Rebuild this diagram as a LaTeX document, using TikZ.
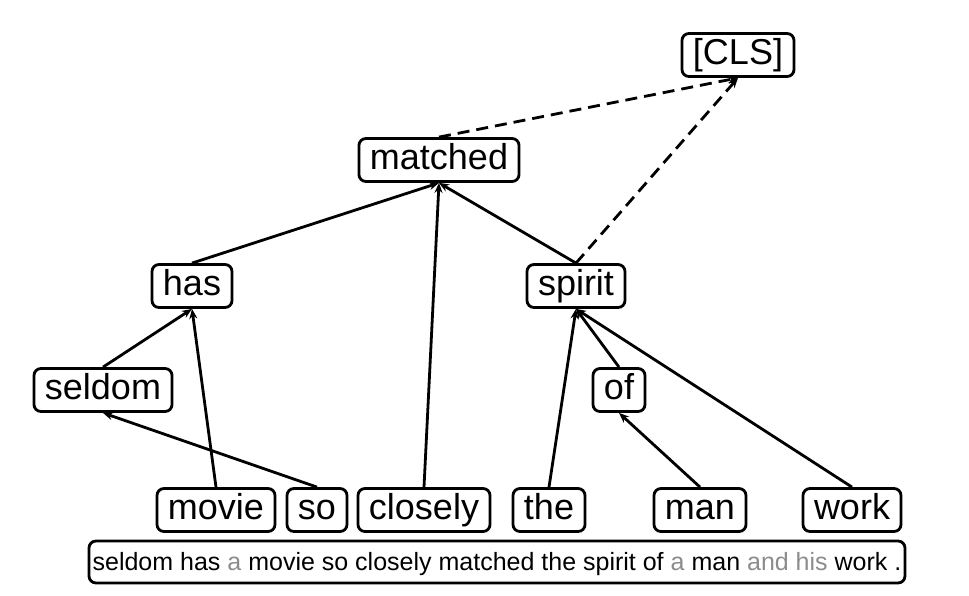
\documentclass[tikz,border=0pt]{standalone}
\usepackage{fontspec}
\setmainfont{Liberation Sans}
\usetikzlibrary{arrows.meta}

\tikzset{
  word/.style={draw, rounded corners=7pt, line width=2.8pt,
    font=\fontsize{36}{40}\selectfont, inner xsep=11pt, inner ysep=4.5pt,
    text height=26pt, text depth=8pt},
  sentence/.style={draw, rounded corners=7pt, line width=2.8pt,
    font=\fontsize{25}{28}\selectfont, inner xsep=2pt, inner ysep=5pt,
    text height=24pt, text depth=8pt, minimum width=816pt},
  dep/.style={-{Stealth[length=10pt,width=8pt]}, line width=2.8pt},
  toroot/.style={dep, dash pattern=on 12pt off 7pt}
}
\newcommand{\faded}[1]{\textcolor{black!45}{#1}}

\begin{document}
\begin{tikzpicture}[x=1pt,y=1pt]
  \useasboundingbox (0,0) rectangle (969,-595);

  % root and heads
  \node[word] (cls)     at (738,-55)  {[CLS]};
  \node[word] (matched) at (439,-160) {matched};
  \node[word] (has)     at (192,-286) {has};
  \node[word] (spirit)  at (576,-286) {spirit};
  \node[word] (seldom)  at (103,-390) {seldom};
  \node[word] (of)      at (619,-390) {of};

  % leaves
  \node[word] (movie)   at (216,-510) {movie};
  \node[word] (so)      at (317,-510) {so};
  \node[word] (closely) at (424,-510) {closely};
  \node[word] (the)     at (549,-510) {the};
  \node[word] (man)     at (700,-510) {man};
  \node[word] (work)    at (852,-510) {work};

  \node[sentence] (sent) at (497,-562)
  {seldom has \faded{a} movie so closely matched the spirit of \faded{a} man \faded{and his} work .};

  % dependency arcs
  \draw[dep] (seldom.north)  -- (has.south);
  \draw[dep] (movie.north)   -- (has.south);
  \draw[dep] (so.north)      -- (seldom.south);
  \draw[dep] (has.north)     -- (matched.south);
  \draw[dep] (closely.north) -- (matched.south);
  \draw[dep] (spirit.north)  -- (matched.south);
  \draw[dep] (the.north)     -- (spirit.south);
  \draw[dep] (of.north)      -- (spirit.south);
  \draw[dep] (work.north)    -- (spirit.south);
  \draw[dep] (man.north)     -- (of.south);

  % links to [CLS]
  \draw[toroot] (matched.north) -- (cls.south);
  \draw[toroot] (spirit.north)  -- (cls.south);
\end{tikzpicture}
\end{document}
